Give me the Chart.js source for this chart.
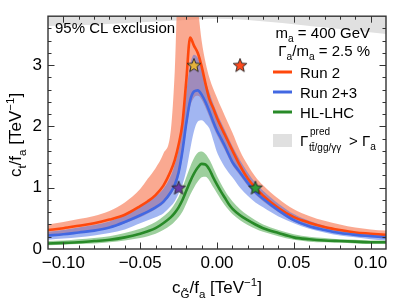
<!DOCTYPE html>
<html>
<head>
<meta charset="utf-8">
<script src="https://cdn.jsdelivr.net/npm/chart.js@4.4.1/dist/chart.umd.min.js"></script>
<style>
  html, body { margin: 0; padding: 0; background: #fff; }
  #wrap { width: 407px; height: 305px; }
</style>
</head>
<body>
<div id="wrap"><canvas id="c" width="407" height="305"></canvas></div>
<script>
// x grid of the curves (c_G/f_a in TeV^-1)
const xs = [-0.11, -0.10, -0.09, -0.08, -0.07, -0.06, -0.05, -0.045, -0.04, -0.035,
  -0.03, -0.0275, -0.025, -0.0225, -0.02, -0.0175, -0.015, -0.0125, -0.01, -0.0075,
  -0.005, -0.0025, 0, 0.0025, 0.005, 0.0075, 0.01, 0.015, 0.02, 0.025,
  0.03, 0.04, 0.05, 0.06, 0.07, 0.08, 0.09, 0.10, 0.11];

// Run 2
const run2 = [0.31, 0.34, 0.38, 0.42, 0.48, 0.56, 0.70, 0.78, 0.88, 1.03,
  1.28, 1.45, 1.70, 2.05, 2.75, 3.45, 3.32, 3.20, 2.98, 2.70,
  2.45, 2.30, 2.14, 2.00, 1.87, 1.74, 1.61, 1.36, 1.15, 1.00,
  0.87, 0.67, 0.52, 0.43, 0.36, 0.31, 0.27, 0.25, 0.23];
const run2Hi = [0.40, 0.44, 0.49, 0.54, 0.62, 0.76, 0.98, 1.15, 1.32, 1.55,
  1.95, 2.90, 4.5, 4.5, 4.5, 4.5, 4.5, 3.95, 3.40, 3.05,
  2.80, 2.62, 2.47, 2.32, 2.18, 2.04, 1.90, 1.60, 1.37, 1.18,
  1.04, 0.82, 0.65, 0.54, 0.46, 0.40, 0.35, 0.32, 0.30];
const run2Lo = [0.21, 0.23, 0.26, 0.29, 0.34, 0.42, 0.52, 0.58, 0.65, 0.74,
  0.89, 1.00, 1.18, 1.50, 1.95, 2.32, 2.47, 2.50, 2.44, 2.31,
  2.16, 2.00, 1.86, 1.74, 1.62, 1.49, 1.37, 1.20, 1.03, 0.89,
  0.78, 0.60, 0.45, 0.36, 0.30, 0.25, 0.22, 0.20, 0.18];

// Run 2+3
const run23 = [0.22, 0.24, 0.27, 0.30, 0.35, 0.44, 0.55, 0.61, 0.68, 0.77,
  0.93, 1.05, 1.25, 1.60, 2.05, 2.42, 2.57, 2.59, 2.52, 2.40,
  2.25, 2.08, 1.93, 1.81, 1.69, 1.55, 1.42, 1.25, 1.08, 0.93,
  0.82, 0.63, 0.47, 0.37, 0.31, 0.26, 0.23, 0.21, 0.19];
const run23Hi = [0.28, 0.31, 0.35, 0.39, 0.45, 0.55, 0.68, 0.77, 0.86, 0.98,
  1.20, 1.38, 1.62, 2.00, 2.55, 3.00, 3.17, 3.12, 2.95, 2.75,
  2.56, 2.38, 2.22, 2.08, 1.95, 1.81, 1.68, 1.45, 1.25, 1.08,
  0.95, 0.74, 0.57, 0.46, 0.38, 0.32, 0.28, 0.25, 0.23];
const run23Lo = [0.15, 0.17, 0.19, 0.22, 0.26, 0.32, 0.42, 0.47, 0.52, 0.58,
  0.70, 0.78, 0.90, 1.05, 1.28, 1.62, 1.92, 2.08, 2.10, 2.05,
  1.97, 1.78, 1.58, 1.45, 1.34, 1.25, 1.17, 1.00, 0.87, 0.76,
  0.68, 0.53, 0.42, 0.33, 0.27, 0.22, 0.19, 0.16, 0.14];

// HL-LHC
const hl = [0.09, 0.10, 0.11, 0.13, 0.15, 0.19, 0.25, 0.29, 0.34, 0.42,
  0.52, 0.59, 0.68, 0.80, 0.95, 1.10, 1.23, 1.33, 1.39, 1.38,
  1.30, 1.17, 1.05, 0.94, 0.84, 0.74, 0.66, 0.55, 0.47, 0.40,
  0.34, 0.26, 0.19, 0.16, 0.14, 0.13, 0.12, 0.11, 0.11];
const hlHi = [0.13, 0.14, 0.16, 0.18, 0.21, 0.26, 0.33, 0.38, 0.44, 0.53,
  0.65, 0.74, 0.85, 1.00, 1.17, 1.34, 1.48, 1.57, 1.59, 1.55,
  1.46, 1.33, 1.19, 1.07, 0.96, 0.86, 0.78, 0.65, 0.55, 0.47,
  0.40, 0.31, 0.24, 0.20, 0.18, 0.16, 0.15, 0.14, 0.14];
const hlLo = [0.06, 0.07, 0.08, 0.09, 0.11, 0.14, 0.18, 0.21, 0.25, 0.31,
  0.39, 0.45, 0.52, 0.61, 0.74, 0.88, 1.00, 1.10, 1.17, 1.18,
  1.12, 1.01, 0.91, 0.81, 0.72, 0.64, 0.57, 0.47, 0.39, 0.33,
  0.28, 0.21, 0.15, 0.12, 0.11, 0.10, 0.09, 0.08, 0.08];

// width constraint region (grey, from the top down)
const greyX = [-0.11, -0.08, -0.05, -0.02, 0, 0.02, 0.05, 0.08, 0.11];
const greyY = [3.64, 3.66, 3.70, 3.74, 3.76, 3.74, 3.67, 3.59, 3.51];

// benchmark stars
const starX = [-0.015, 0.015, -0.025, 0.025];
const starY = [3, 3, 1, 1];
const starColors = ["#e3b23c", "#ff4a1c", "#6a3aa6", "#2f9a35"];

const xTicks = [-0.10, -0.05, 0, 0.05, 0.10];
const xTickLabels = ["\u22120.10", "\u22120.05", "0.00", "0.05", "0.10"];
const yTicks = [0, 1, 2, 3];

const RED = "rgb(255,72,12)", BLUE = "rgb(66,104,226)", GREEN = "rgb(40,138,40)";
const FONT = "'Liberation Sans', Arial, sans-serif";

const pts = ys => xs.map((x, i) => ({ x, y: ys[i] }));

function makeStar(color) {
  const s = 16, c = document.createElement("canvas");
  c.width = s; c.height = s;
  const g = c.getContext("2d");
  g.beginPath();
  for (let i = 0; i < 10; i++) {
    const r = i % 2 ? 3.1 : 7.2;
    const a = -Math.PI / 2 + i * Math.PI / 5;
    g.lineTo(s / 2 + r * Math.cos(a), s / 2 + 0.5 + r * Math.sin(a));
  }
  g.closePath();
  g.fillStyle = color; g.fill();
  g.strokeStyle = "#222"; g.lineWidth = 0.9; g.stroke();
  return c;
}

// text with sub/superscripts: parts = [[text, "sub"|"sup"|undefined], ...]
function richWidth(ctx, parts, size) {
  let w = 0;
  for (const [t, k] of parts) {
    ctx.font = (k ? size * 0.68 : size) + "px " + FONT;
    w += ctx.measureText(t).width;
  }
  return w;
}
function drawRich(ctx, parts, x, y, size, align) {
  const w = richWidth(ctx, parts, size);
  let cx = align === "center" ? x - w / 2 : align === "right" ? x - w : x;
  ctx.textBaseline = "alphabetic";
  ctx.textAlign = "left";
  for (const [t, k] of parts) {
    const fs = k ? size * 0.68 : size;
    ctx.font = fs + "px " + FONT;
    const dy = k === "sub" ? size * 0.28 : k === "sup" ? -size * 0.42 : 0;
    ctx.fillText(t, cx, y + dy);
    cx += ctx.measureText(t).width;
  }
}

const decor = {
  id: "decor",
  afterDatasetsDraw(chart) {
    const { ctx, chartArea: a, scales: { x, y } } = chart;
    ctx.save();
    ctx.strokeStyle = "#333";
    ctx.lineWidth = 1;
    ctx.beginPath();
    for (let i = -10; i <= 10; i++) {
      const px = Math.round(x.getPixelForValue(i / 100)) + 0.5;
      const len = i % 5 === 0 ? 6.5 : 3.5;
      ctx.moveTo(px, a.bottom); ctx.lineTo(px, a.bottom - len);
      ctx.moveTo(px, a.top); ctx.lineTo(px, a.top + len);
    }
    for (let i = 1; i <= 18; i++) {
      const py = Math.round(y.getPixelForValue(i / 5)) + 0.5;
      const len = i % 5 === 0 ? 6.5 : 3.5;
      ctx.moveTo(a.left, py); ctx.lineTo(a.left + len, py);
      ctx.moveTo(a.right, py); ctx.lineTo(a.right - len, py);
    }
    ctx.stroke();
    ctx.lineWidth = 1.4;
    ctx.strokeRect(a.left, a.top, a.right - a.left, a.bottom - a.top);

    ctx.fillStyle = "#000";
    // annotations
    drawRich(ctx, [["95% CL exclusion"]], 55, 33, 15, "left");
    drawRich(ctx, [["m"], ["a", "sub"], [" = 400 GeV"]], 370, 38, 15, "right");
    drawRich(ctx, [["\u0393"], ["a", "sub"], ["/m"], ["a", "sub"], [" = 2.5 %"]], 370, 56, 15, "right");

    // legend
    const rows = [["Run 2", RED, 72], ["Run 2+3", BLUE, 92], ["HL-LHC", GREEN, 112]];
    for (const [label, col, py] of rows) {
      ctx.strokeStyle = col; ctx.lineWidth = 3;
      ctx.beginPath(); ctx.moveTo(273, py); ctx.lineTo(292, py); ctx.stroke();
      ctx.fillStyle = "#000";
      drawRich(ctx, [[label]], 300, py + 5.5, 15, "left");
    }
    ctx.fillStyle = "rgb(224,224,224)";
    ctx.fillRect(273, 134, 19, 13);
    ctx.fillStyle = "#000";
    ctx.font = "15px " + FONT;
    ctx.fillText("\u0393", 300, 146);
    ctx.font = "10px " + FONT;
    ctx.fillText("pred", 310, 135);
    ctx.fillText("tt\u0304/gg/\u03b3\u03b3", 309, 151);
    drawRich(ctx, [["> \u0393"], ["a", "sub"]], 349, 146, 15, "left");

    // axis titles
    drawRich(ctx, [["c"], ["G\u0303", "sub"], ["/f"], ["a", "sub"], [" [TeV"], ["\u22121", "sup"], ["]"]], 217, 293, 17, "center");
    ctx.save();
    ctx.translate(21, 135);
    ctx.rotate(-Math.PI / 2);
    drawRich(ctx, [["c"], ["t", "sub"], ["/f"], ["a", "sub"], [" [TeV"], ["\u22121", "sup"], ["]"]], 0, 0, 17, "center");
    ctx.restore();
    ctx.restore();
  }
};

const band = (ys, fill, color, order) => ({
  data: pts(ys), borderWidth: 0, pointRadius: 0, fill, backgroundColor: color,
  borderColor: "rgba(0,0,0,0)", cubicInterpolationMode: "monotone", order
});
const line = (ys, color, order) => ({
  data: pts(ys), borderWidth: 2.6, pointRadius: 0, fill: false, borderColor: color,
  cubicInterpolationMode: "monotone", order
});

new Chart(document.getElementById("c"), {
  type: "line",
  data: {
    datasets: [
      {
        type: "scatter",
        data: starX.map((x, i) => ({ x, y: starY[i] })),
        pointStyle: starColors.map(makeStar),
        pointRadius: 8, order: 0
      },
      line(hl, GREEN, 1),
      line(run23, BLUE, 2),
      line(run2, RED, 3),
      band(hlHi, "+1", "rgba(60,160,60,0.5)", 4),
      band(hlLo, false, "rgba(0,0,0,0)", 4),
      band(run23Hi, "+1", "rgba(70,110,230,0.5)", 5),
      band(run23Lo, false, "rgba(0,0,0,0)", 5),
      band(run2Hi, "+1", "rgba(246,112,72,0.6)", 6),
      band(run2Lo, false, "rgba(0,0,0,0)", 6),
      {
        data: greyX.map((x, i) => ({ x, y: greyY[i] })),
        borderWidth: 0, pointRadius: 0, fill: "end",
        backgroundColor: "rgb(224,224,224)", borderColor: "rgba(0,0,0,0)",
        cubicInterpolationMode: "monotone", order: 7
      }
    ]
  },
  options: {
    responsive: false,
    animation: false,
    layout: { padding: { top: 14, right: 21, left: 0, bottom: 0 } },
    plugins: { legend: { display: false }, tooltip: { enabled: false } },
    scales: {
      x: {
        type: "linear", min: -0.11, max: 0.11,
        grid: { display: false, drawTicks: false }, border: { display: false },
        afterBuildTicks: s => { s.ticks = xTicks.map(v => ({ value: v })); },
        afterFit: s => { s.height = 56; },
        ticks: {
          autoSkip: false, maxRotation: 0, padding: 4, color: "#000",
          font: { family: FONT, size: 17 },
          callback: (v, i) => xTickLabels[i]
        }
      },
      y: {
        type: "linear", min: 0, max: 3.8,
        grid: { display: false, drawTicks: false }, border: { display: false },
        afterBuildTicks: s => { s.ticks = yTicks.map(v => ({ value: v })); },
        afterFit: s => { s.width = 48; },
        ticks: {
          padding: 6, color: "#000",
          font: { family: FONT, size: 17 },
          callback: v => String(v)
        }
      }
    }
  },
  plugins: [decor]
});
</script>
</body>
</html>
